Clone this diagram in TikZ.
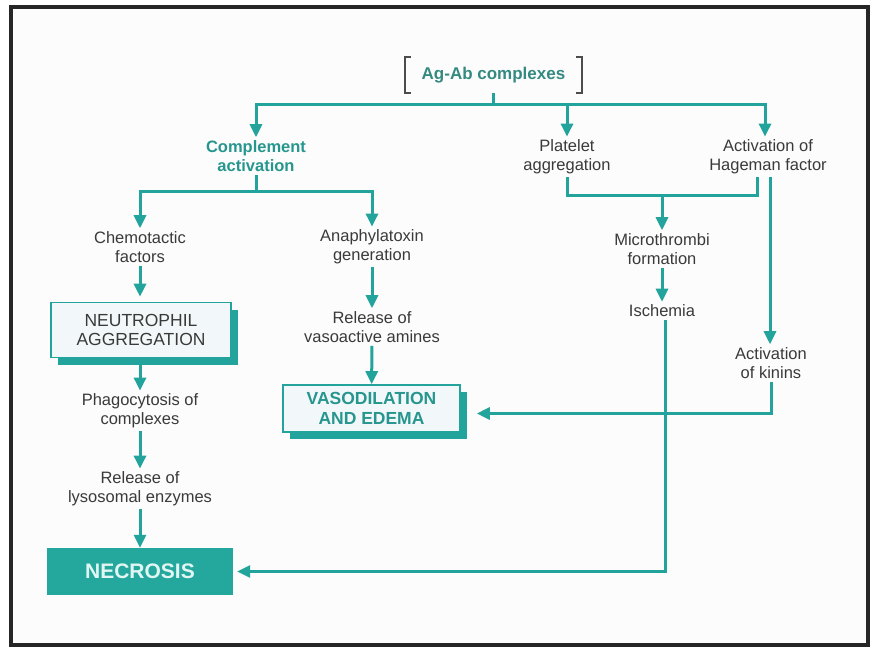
\documentclass[tikz,border=0pt]{standalone}
\usepackage{fontspec}
\setmainfont{Liberation Sans}
\usetikzlibrary{arrows.meta,shadows,calc}
\definecolor{tl}{RGB}{34,164,156}
\definecolor{tldark}{RGB}{52,138,128}
\definecolor{tltext}{RGB}{38,150,142}
\definecolor{tx}{RGB}{58,58,58}
\definecolor{boxfill}{RGB}{242,248,249}
\definecolor{necfill}{RGB}{36,168,158}
\definecolor{nectext}{RGB}{225,246,243}
\definecolor{bg}{RGB}{252,252,252}
\begin{document}
\begin{tikzpicture}[x=1pt,y=-1pt,
  txt/.style={align=center,font=\fontsize{16.5}{19}\selectfont,text=tx,inner sep=3pt},
  ttl/.style={align=center,font=\fontsize{16.5}{19}\selectfont\bfseries,text=tltext,inner sep=3pt},
  conn/.style={draw=tl,line width=3pt},
  arr/.style={conn,-{Triangle[length=13pt,width=12pt]}},
  shbox/.style={draw=tl,line width=1.6pt,fill=boxfill,inner sep=0pt,align=center,
    drop shadow={shadow xshift=7pt,shadow yshift=-7pt,fill=tl,opacity=1}},
]
\useasboundingbox (0,0) rectangle (870,647);
\fill[bg] (11,7) rectangle (868,645);
\draw[line width=4pt,black!85] (11,7) rectangle (868,645);

% top
\node[minimum width=177pt,minimum height=36pt,inner sep=0pt,
  font=\fontsize{17}{19}\selectfont\bfseries,text=tldark] (ag) at (493.5,75) {Ag-Ab complexes};
\draw[line width=1.6pt,black!70] ([xshift=6pt]ag.north west) -- (ag.north west) -- (ag.south west) -- ([xshift=6pt]ag.south west);
\draw[line width=1.6pt,black!70] ([xshift=-6pt]ag.north east) -- (ag.north east) -- (ag.south east) -- ([xshift=-6pt]ag.south east);

\node[ttl] (compl) at (256,156) {Complement\\activation};
\node[txt] (plat) at (567,157) {Platelet\\aggregation};
\node[txt] (hag) at (768,157) {Activation of\\Hageman factor};

\node[txt] (chemo) at (140,247) {Chemotactic\\factors};
\node[txt] (anaph) at (372,247) {Anaphylatoxin\\generation};
\node[txt] (micro) at (662,249) {Microthrombi\\formation};
\node[txt] (isch) at (662,311) {Ischemia};
\node[txt] (relv) at (372,327) {Release of\\vasoactive amines};
\node[txt] (kin) at (771,363) {Activation\\of kinins};

\node[shbox,minimum width=180pt,minimum height=55pt,
  font=\fontsize{17.5}{19}\selectfont,text=tx] (neut) at (141,330) {NEUTROPHIL\\AGGREGATION};
\node[shbox,minimum width=177pt,minimum height=47pt,
  font=\fontsize{17.5}{20}\selectfont\bfseries,text=tltext] (vaso) at (371.5,408.5) {VASODILATION\\AND EDEMA};

\node[txt] (phago) at (140,411) {Phagocytosis of\\complexes};
\node[txt] (lyso) at (140,489) {Release of\\lysosomal enzymes};

\node[fill=necfill,minimum width=186pt,minimum height=47pt,inner sep=0pt,
  font=\fontsize{21}{24}\selectfont\bfseries,text=nectext] (necro) at (140,571.5) {NECROSIS};

% connectors
\coordinate (j1) at (493.5,105);
\draw[conn] (ag.south) -- (j1);
\draw[arr] (j1) -| (compl.north);
\draw[arr] (j1) -| (plat.north);
\draw[arr] (j1) -| ([xshift=-3pt]hag.north);

\coordinate (j2) at (256,192);
\draw[conn] (compl.south) -- (j2);
\draw[arr] (j2) -| (chemo.north);
\draw[arr] (j2) -| (anaph.north);

\coordinate (j3) at (662,196);
\draw[conn] (plat.south) |- (j3) -| ([xshift=-11pt]hag.south);
\draw[arr] (j3) -- (micro.north);
\draw[arr] (micro) -- (isch);

\draw[arr] ([xshift=2pt]hag.south) -- ([xshift=2pt]hag.south |- kin.north);
\draw[arr] (kin.south) |- ([shift={(16pt,-5pt)}]vaso.east);
\draw[arr] ([xshift=3pt]isch.south) |- ([xshift=4pt]necro.east);

\draw[arr] (chemo.south) -- ([yshift=5pt]chemo.south |- neut.north);
\draw[arr] ([yshift=-7pt]chemo.south |- neut.south) -- (phago.north);
\draw[arr] (phago) -- (lyso);
\draw[arr] (lyso) -- (necro);

\draw[arr] (anaph) -- (relv);
\draw[arr] (relv) -- (vaso);
\end{tikzpicture}
\end{document}
